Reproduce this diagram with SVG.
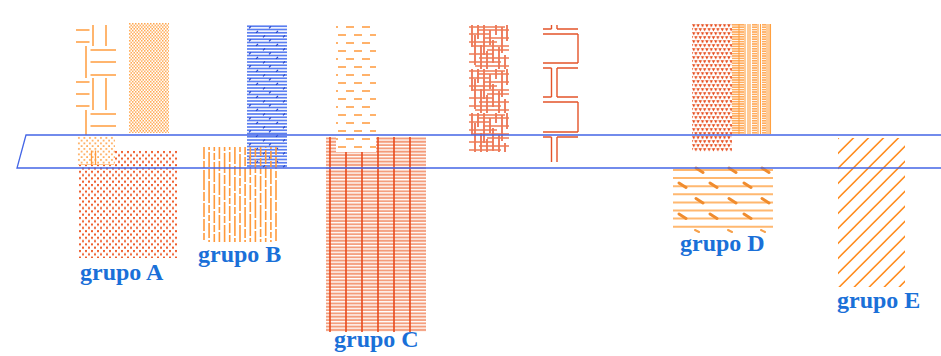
<svg xmlns="http://www.w3.org/2000/svg" width="941" height="356" viewBox="0 0 941 356">
<defs>
<style>
.lbl{font-family:"Liberation Serif","Times New Roman",serif;font-weight:bold;font-size:24px;fill:#1a70d8}
.frame{fill:none;stroke:#4466e6;stroke-width:1.3}
.wv{stroke:#ffb56e;stroke-width:2;fill:none}
.ib{stroke:#e4542a;stroke-width:1.4;fill:none}
.ob{stroke:#ff9a3c;stroke-width:1.6;fill:none}
.mz{stroke:#e64a22;stroke-width:1.4;fill:none}
.mz2{stroke:#ee7a55;stroke-width:1.4;fill:none}
.rv{stroke:#e84a1c;stroke-width:1.6}
.dl{stroke:#ffb870;stroke-width:2}
.dm{stroke:#f08c2e;stroke-width:3;stroke-linecap:round}
.vs{stroke:#ffa040;stroke-width:1.1}
</style>
<pattern id="weave" patternUnits="userSpaceOnUse" x="58" y="14" width="64" height="64">
<g class="wv">
<path d="M0,4H31.5M0,16H31.5M0,28H31.5"/>
<path d="M35,0V32M48,0V32M61,0V32"/>
<path d="M2,32V64M15,32V64M28,32V64"/>
<path d="M32.5,36H64M32.5,48H64M32.5,61H64"/>
</g>
</pattern>
<pattern id="rdots" patternUnits="userSpaceOnUse" x="78" y="150" width="6" height="6.6">
<rect x="1" y="1" width="2" height="2" fill="#ee5a28"/>
<rect x="4" y="4.3" width="2" height="2" fill="#ee5a28"/>
</pattern>
<pattern id="ldots" patternUnits="userSpaceOnUse" x="129" y="23" width="3" height="3.4">
<rect x="0" y="0" width="1.5" height="1.5" fill="#ffa64e"/>
<rect x="1.5" y="1.7" width="1.5" height="1.5" fill="#ffa64e"/>
</pattern>
<pattern id="pdots" patternUnits="userSpaceOnUse" x="77" y="136" width="5.5" height="5.5">
<rect x="1" y="1" width="1.8" height="1.8" fill="#ffac5c"/>
<rect x="3.75" y="3.75" width="1.8" height="1.8" fill="#ffac5c"/>
</pattern>
<pattern id="blue" patternUnits="userSpaceOnUse" x="247" y="25" width="20" height="13">
<rect x="0" y="0.4" width="20" height="1.7" fill="#5a7ef0"/>
<rect x="0" y="3.65" width="20" height="1.7" fill="#5a7ef0"/>
<rect x="0" y="6.9" width="20" height="1.7" fill="#5a7ef0"/>
<rect x="0" y="10.15" width="20" height="1.7" fill="#5a7ef0"/>
<path d="M2,3.4L4,1.4M9,7.9L11,5.9M16,12.4L18,10.4" stroke="#2240c8" stroke-width="1.1"/>
</pattern>
<pattern id="brick" patternUnits="userSpaceOnUse" x="330" y="23" width="16" height="16">
<rect x="0" y="3" width="8" height="2" fill="#ffb26b"/>
<rect x="8" y="11" width="8" height="2" fill="#ffb26b"/>
</pattern>
<pattern id="sal" patternUnits="userSpaceOnUse" x="326" y="137" width="10" height="3.3">
<rect x="0" y="0.5" width="10" height="1.9" fill="#f39a78"/>
</pattern>
<pattern id="maze" patternUnits="userSpaceOnUse" x="469" y="25" width="40" height="44">
<path class="mz" d="M3,0V22M6,10V40M9,0V14M12,20V44M15,0V30M18,26V44M21,5V20M24,15V38M27,0V10M30,22V44M33,2V28M36,30V44M38,0V16"/>
<path class="mz2" d="M0,2H36M8,5H40M0,9H20M14,13H40M0,17H28M4,21H40M18,25H40M0,29H24M10,33H40M0,37H32M6,41H40"/>
</pattern>
<pattern id="tri" patternUnits="userSpaceOnUse" x="692" y="24" width="4.4" height="8">
<path d="M0,0.3h3.4l-1.7,3.2zM2.2,4.3h3.4l-1.7,3.2zM-2.2,4.3h3.4l-1.7,3.2z" fill="#e64a1a"/>
</pattern>
<pattern id="hl" patternUnits="userSpaceOnUse" x="732" y="24" width="4" height="2.4">
<rect x="0" y="0" width="4" height="1.6" fill="#ffac5e"/>
</pattern>
<pattern id="hatch" patternUnits="userSpaceOnUse" x="0" y="0" width="15" height="15">
<path d="M-2,18.3L18.3,-2M-2,3.3L3.3,-2M14,17.3L17.3,14" stroke="#ff8c1e" stroke-width="1.6"/>
</pattern>
</defs>

<g id="grupoA">
<rect x="78" y="150" width="99" height="108" fill="url(#rdots)"/>
<rect x="76" y="25" width="40" height="110" fill="url(#weave)"/>
<rect x="77" y="136" width="38" height="28" fill="#ffffff"/>
<rect x="77" y="136" width="38" height="28" fill="url(#pdots)"/>
<path d="M78,164.5H114" stroke="#ffc890" stroke-width="1"/>
<path d="M91.5,150.5V165M95.5,150.5V165" stroke="#ff9a3c" stroke-width="1.3"/>
<rect x="129" y="23" width="40" height="110" fill="url(#ldots)"/>
<text class="lbl" x="80" y="280">grupo A</text>
</g>

<g id="grupoB">
<rect x="247" y="25" width="40" height="143" fill="url(#blue)"/>
<g class="ob">
<path d="M204,147V242" stroke-dasharray="12 2 7 2 20 2 9 2 14 2"/>
<path d="M209.1,147V242" stroke-dasharray="6 2 15 2 10 2 22 2 8 2" stroke-dashoffset="3"/>
<path d="M214.3,147V242" stroke-dasharray="12 2 7 2 20 2 9 2 14 2" stroke-dashoffset="8"/>
<path d="M219.4,147V242" stroke-dasharray="6 2 15 2 10 2 22 2 8 2" stroke-dashoffset="11"/>
<path d="M224.6,147V242" stroke-dasharray="12 2 7 2 20 2 9 2 14 2" stroke-dashoffset="17"/>
<path d="M229.7,147V242" stroke-dasharray="6 2 15 2 10 2 22 2 8 2" stroke-dashoffset="20"/>
<path d="M234.9,147V242" stroke-dasharray="12 2 7 2 20 2 9 2 14 2" stroke-dashoffset="26"/>
<path d="M240,147V242" stroke-dasharray="6 2 15 2 10 2 22 2 8 2" stroke-dashoffset="30"/>
<path d="M245.1,147V242" stroke-dasharray="12 2 7 2 20 2 9 2 14 2" stroke-dashoffset="35"/>
<path d="M250.3,147V242" stroke-dasharray="6 2 15 2 10 2 22 2 8 2" stroke-dashoffset="41"/>
<path d="M255.4,147V242" stroke-dasharray="12 2 7 2 20 2 9 2 14 2" stroke-dashoffset="44"/>
<path d="M260.6,147V242" stroke-dasharray="6 2 15 2 10 2 22 2 8 2" stroke-dashoffset="50"/>
<path d="M265.7,147V242" stroke-dasharray="12 2 7 2 20 2 9 2 14 2" stroke-dashoffset="53"/>
<path d="M270.9,147V242" stroke-dasharray="6 2 15 2 10 2 22 2 8 2" stroke-dashoffset="57"/>
<path d="M276,147V242" stroke-dasharray="12 2 7 2 20 2 9 2 14 2" stroke-dashoffset="62"/>
</g>
<text class="lbl" x="198" y="262">grupo B</text>
</g>

<g id="grupoC">
<rect x="326" y="137" width="100" height="195" fill="url(#sal)"/>
<rect x="336" y="26" width="40" height="126" fill="#ffffff"/>
<rect x="336" y="26" width="40" height="126" fill="url(#brick)"/>
<path class="rv" d="M330,137V332M346,152V332M362,152V332M378,137V332M394,137V332M410,137V332"/>
<text class="lbl" x="334" y="347">grupo C</text>
</g>

<g id="grupoM">
<rect x="469" y="25" width="40" height="127" fill="url(#maze)"/>
<path class="ib" d="M551.5,25V29M557,25V29M543,29H551.5M557,29H578M543,34H578M578,34V63M543,63H578M543,68H551.5M557,68H578M551.5,68V97M557,68V97M543,97H551.5M557,97H578M543,102H578M578,102V132M543,132H578M543,137H551.5M557,137H578M551.5,137V162M557,137V162"/>
</g>

<g id="grupoD">
<rect x="692" y="24" width="40" height="128" fill="url(#tri)"/>
<rect x="732" y="24" width="12" height="110" fill="url(#hl)"/>
<rect x="752" y="24" width="5" height="110" fill="url(#hl)"/>
<rect x="762" y="24" width="4" height="110" fill="url(#hl)"/>
<path class="vs" d="M739,24V134M745,24V134M748,24V134M750,24V134M758,24V134M760.5,24V134M767,24V134M769,24V134M770.5,24V134"/>
<path class="dl" d="M673,170H773M673,178.1H773M673,186.2H773M673,194.3H773M673,202.4H773M673,210.5H773M673,218.6H773M673,226.7H773"/>
<path class="dm" d="M696,168L703,172.5M729,168L736,172.5M762,168L769,172.5M679,183L686,187.5M710,183L717,187.5M744,183L751,187.5M696,198.5L703,203M729,198.5L736,203M762,198.5L769,203M679,214L686,218.5M710,214L717,218.5M744,214L751,218.5"/>
<path d="M695,230L699,232M728,230L732,232M761,230L765,232" stroke="#f6a04a" stroke-width="2" stroke-linecap="round"/>
<text class="lbl" x="680" y="251">grupo D</text>
</g>

<g id="grupoE">
<rect x="838" y="138" width="67" height="149" fill="url(#hatch)"/>
<text class="lbl" x="837" y="308">grupo E</text>
</g>

<path id="plano" class="frame" d="M945,135H26L17,168H945"/>
</svg>
